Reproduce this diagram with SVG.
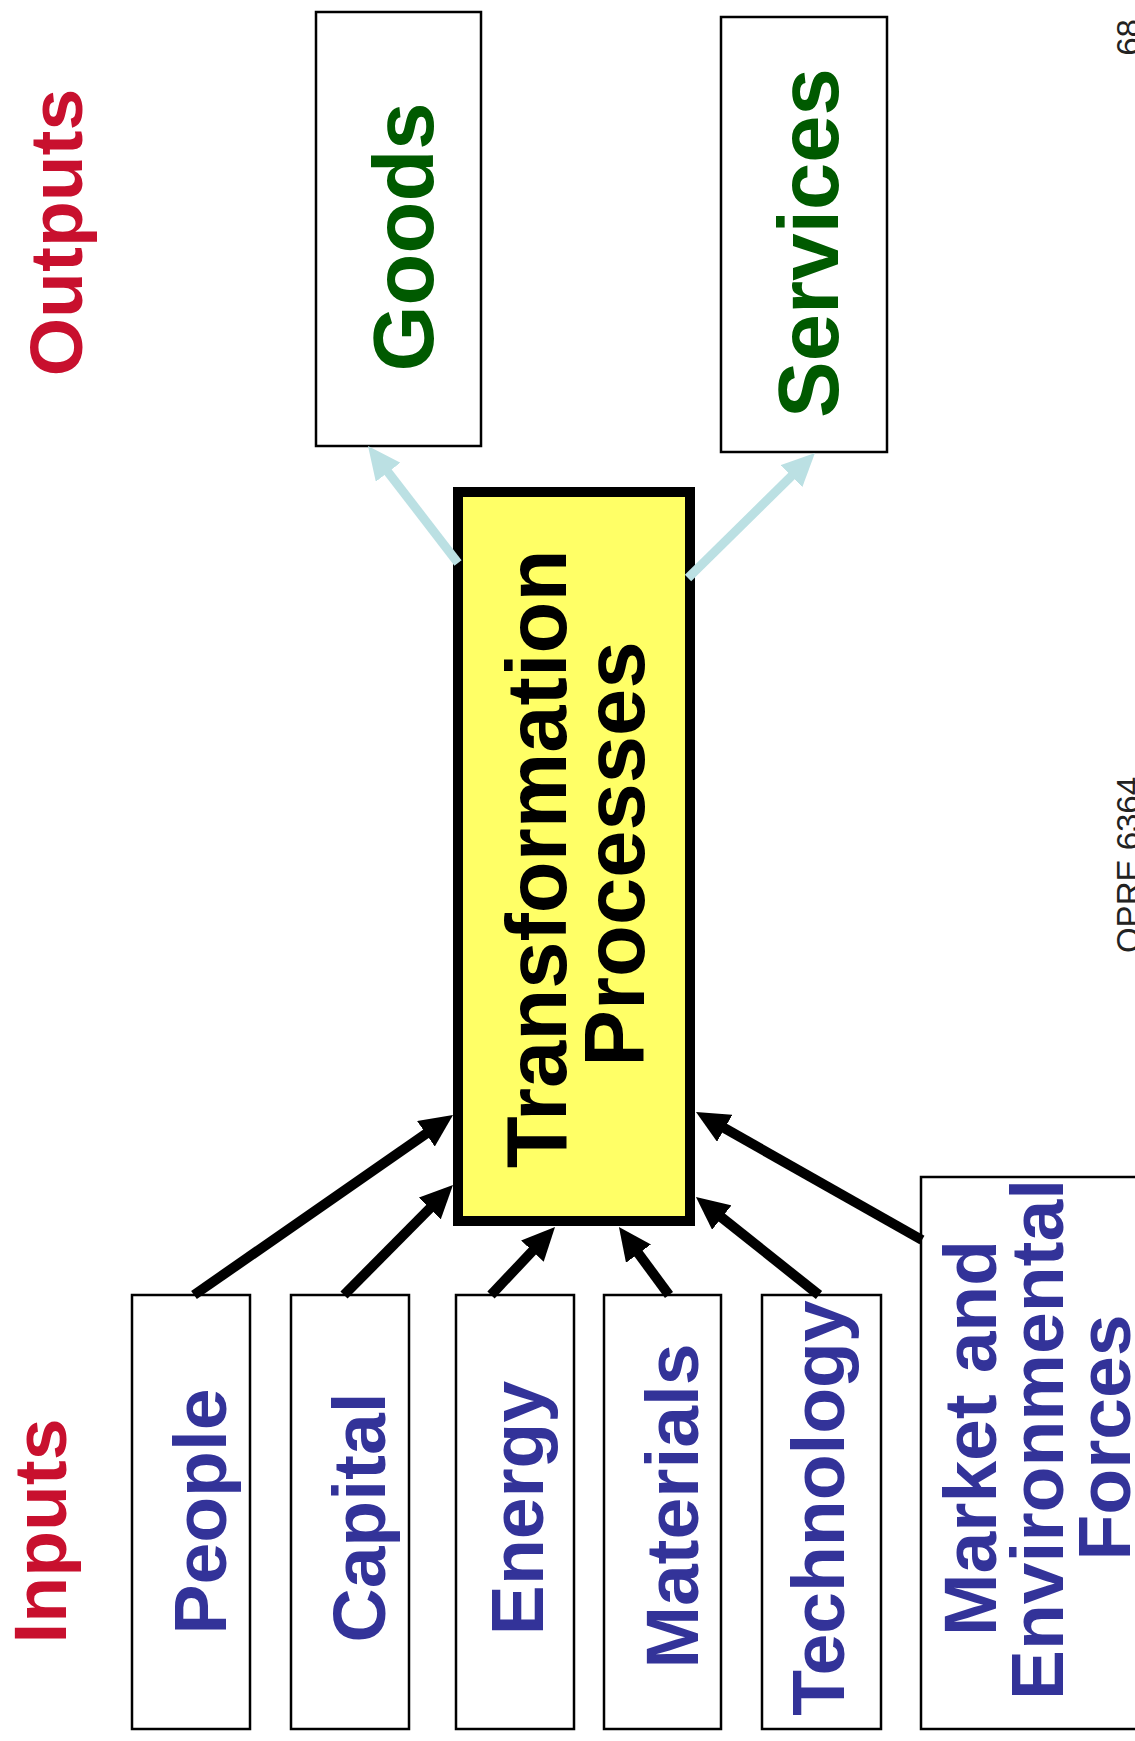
<svg xmlns="http://www.w3.org/2000/svg" width="1135" height="1741" viewBox="0 0 1135 1741">
  <style>
    text { font-family: "Liberation Sans", Arial, sans-serif; font-weight: bold; text-anchor: middle; }
    .box { fill: #ffffff; stroke: #000000; stroke-width: 2.5; }
    .core { fill: #ffff66; stroke: #000000; stroke-width: 10; }
    .head { fill: #c8102e; font-size: 75px; }
    .in { fill: #333399; font-size: 75px; }
    .out { fill: #005a00; font-size: 85px; }
    .core-label { fill: #000000; font-size: 85px; }
    .foot { fill: #222222; font-size: 33px; font-weight: normal; }
    .feed { fill: none; stroke: #000000; stroke-width: 10; marker-end: url(#tipBlack); }
    .yield { fill: none; stroke: #bbe0e3; stroke-width: 9; marker-end: url(#tipBlue); }
  </style>
  <defs>
    <marker id="tipBlack" markerUnits="userSpaceOnUse" markerWidth="33" markerHeight="31" refX="13" refY="15.5" orient="auto">
      <path d="M0,0 L33,15.5 L0,31 z" fill="#000000"/>
    </marker>
    <marker id="tipBlue" markerUnits="userSpaceOnUse" markerWidth="33" markerHeight="31" refX="13" refY="15.5" orient="auto">
      <path d="M0,0 L33,15.5 L0,31 z" fill="#bbe0e3"/>
    </marker>
  </defs>

  <rect width="1135" height="1741" fill="#ffffff"/>

  <!-- section headings -->
  <text class="head" transform="translate(82,232.5) rotate(-90)">Outputs</text>
  <text class="head" transform="translate(66,1531) rotate(-90)">Inputs</text>

  <!-- outputs -->
  <g id="goods">
    <rect class="box" x="316" y="12" width="165" height="434"/>
    <text class="out" transform="translate(433,237) rotate(-90)">Goods</text>
  </g>
  <g id="services">
    <rect class="box" x="721" y="17" width="166" height="435"/>
    <text class="out" transform="translate(838,243) rotate(-90)">Services</text>
  </g>

  <!-- central process -->
  <g id="transformation">
    <rect class="core" x="458" y="492" width="232" height="729"/>
    <text class="core-label" transform="translate(566,859) rotate(-90)">Transformation</text>
    <text class="core-label" transform="translate(644,854) rotate(-90)">Processes</text>
  </g>

  <!-- inputs -->
  <g id="people">
    <rect class="box" x="132" y="1295" width="118" height="434"/>
    <text class="in" transform="translate(226,1511.5) rotate(-90)">People</text>
  </g>
  <g id="capital">
    <rect class="box" x="291" y="1295" width="118" height="434"/>
    <text class="in" transform="translate(385,1517.5) rotate(-90)">Capital</text>
  </g>
  <g id="energy">
    <rect class="box" x="456" y="1295" width="118" height="434"/>
    <text class="in" transform="translate(543,1508) rotate(-90)">Energy</text>
  </g>
  <g id="materials">
    <rect class="box" x="604" y="1295" width="117" height="434"/>
    <text class="in" transform="translate(697.5,1506) rotate(-90)">Materials</text>
  </g>
  <g id="technology">
    <rect class="box" x="762" y="1295" width="119" height="434"/>
    <text class="in" transform="translate(844,1508) rotate(-90)">Technology</text>
  </g>
  <g id="market-forces">
    <rect class="box" x="921" y="1177" width="225" height="552"/>
    <text class="in" transform="translate(996,1438) rotate(-90)">Market and</text>
    <text class="in" transform="translate(1063,1439.5) rotate(-90)">Environmental</text>
    <text class="in" transform="translate(1130,1437.5) rotate(-90)">Forces</text>
  </g>

  <!-- arrows -->
  <g id="connectors">
    <line class="feed" x1="194" y1="1295" x2="436.6" y2="1126.4"/>
    <line class="feed" x1="344" y1="1295" x2="438.9" y2="1199.2"/>
    <line class="feed" x1="491" y1="1295" x2="541.3" y2="1241.6"/>
    <line class="feed" x1="669" y1="1295" x2="630.8" y2="1243.1"/>
    <line class="feed" x1="819" y1="1295" x2="711.6" y2="1209.5"/>
    <line class="feed" x1="922" y1="1240" x2="713.4" y2="1121.9"/>
    <line class="yield" x1="458" y1="563" x2="380.2" y2="461.9"/>
    <line class="yield" x1="688" y1="578" x2="800.7" y2="467"/>
  </g>

  <!-- page footer -->
  <text class="foot" transform="translate(1140,37.5) rotate(-90)">68</text>
  <text class="foot" transform="translate(1140,865) rotate(-90)">OPRE 6364</text>
</svg>
